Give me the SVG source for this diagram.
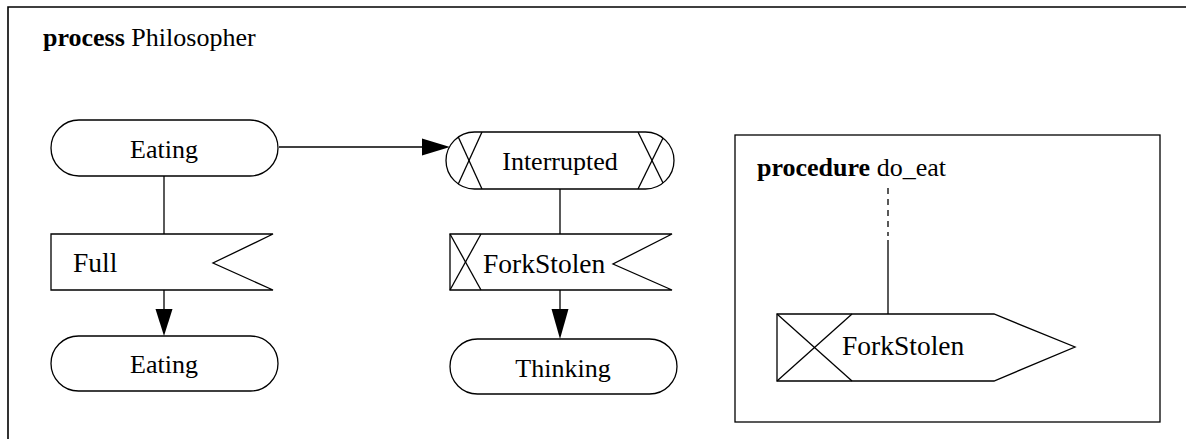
<svg xmlns="http://www.w3.org/2000/svg" width="1186" height="439" viewBox="0 0 1186 439">
<style>
.s{fill:#fff;stroke:#000;stroke-width:1.3}
.l{fill:none;stroke:#000;stroke-width:1.3}
.t{font-family:"Liberation Serif","Times New Roman",serif;font-size:26px;fill:#000}
.b{font-weight:bold}
.d{font-family:"Liberation Serif","Times New Roman",serif;font-size:27.5px;fill:#000}
.ah{fill:#000;stroke:none}
</style>
<defs>
<clipPath id="cpInt"><rect x="446" y="132" width="228" height="57" rx="28.5" ry="28.5"/></clipPath>
</defs>
<rect width="1186" height="439" fill="#fff"/>
<g id="frame">
<path d="M8,439 V7 H1186" fill="none" stroke="#000" stroke-width="1.6"/>
<text class="t" x="43" y="46"><tspan class="b">process</tspan> Philosopher</text>
</g>
<g id="procedure">
<rect class="s" x="735" y="135" width="425" height="287"/>
<text class="t" x="757" y="176"><tspan class="b">procedure</tspan> do_eat</text>
</g>
<g id="connectors">
<line class="l" x1="164" y1="176" x2="164" y2="234"/>
<line class="l" x1="164" y1="290" x2="164" y2="312"/>
<polygon class="ah" points="155.5,309 172.5,309 164,336"/>
<line class="l" x1="279" y1="147" x2="425" y2="147"/>
<polygon class="ah" points="422,138.5 422,155.5 450,147"/>
<line class="l" x1="560" y1="189" x2="560" y2="234"/>
<line class="l" x1="560" y1="290" x2="560" y2="312"/>
<polygon class="ah" points="551.5,309 568.5,309 560,339"/>
<line class="l" x1="888" y1="188" x2="888" y2="236" stroke-dasharray="6 5"/>
<line class="l" x1="888" y1="240" x2="888" y2="316"/>
</g>
<g id="eating1">
<rect class="s" x="51" y="120" width="227" height="56" rx="28" ry="28"/>
<text class="t" x="164" y="158" text-anchor="middle">Eating</text>
</g>
<g id="full">
<polygon class="s" points="51,234 273,234 213,263 273,290 51,290"/>
<text class="d" x="73" y="272">Full</text>
</g>
<g id="eating2">
<rect class="s" x="51" y="336" width="227" height="55" rx="27.5" ry="27.5"/>
<text class="t" x="164" y="373" text-anchor="middle">Eating</text>
</g>
<g id="interrupted">
<rect class="s" x="446" y="132" width="228" height="57" rx="28.5" ry="28.5"/>
<g clip-path="url(#cpInt)">
<line class="l" x1="456" y1="132" x2="482" y2="189"/>
<line class="l" x1="482" y1="132" x2="456" y2="189"/>
<line class="l" x1="638" y1="132" x2="666" y2="189"/>
<line class="l" x1="666" y1="132" x2="638" y2="189"/>
</g>
<text class="t" x="560" y="170" text-anchor="middle">Interrupted</text>
</g>
<g id="forkstolen-in">
<polygon class="s" points="450,234 672,234 613,264 672,290 450,290"/>
<line class="l" x1="450" y1="234" x2="481" y2="290"/>
<line class="l" x1="481" y1="234" x2="450" y2="290"/>
<text class="d" x="483" y="273">ForkStolen</text>
</g>
<g id="thinking">
<rect class="s" x="450" y="339" width="227" height="55" rx="27.5" ry="27.5"/>
<text class="t" x="563" y="377" text-anchor="middle">Thinking</text>
</g>
<g id="forkstolen-out">
<polygon class="s" points="777,314 994,314 1075,347 994,381 777,381"/>
<line class="l" x1="777" y1="314" x2="852" y2="381"/>
<line class="l" x1="852" y1="314" x2="777" y2="381"/>
<text class="d" x="842" y="355">ForkStolen</text>
</g>
</svg>
